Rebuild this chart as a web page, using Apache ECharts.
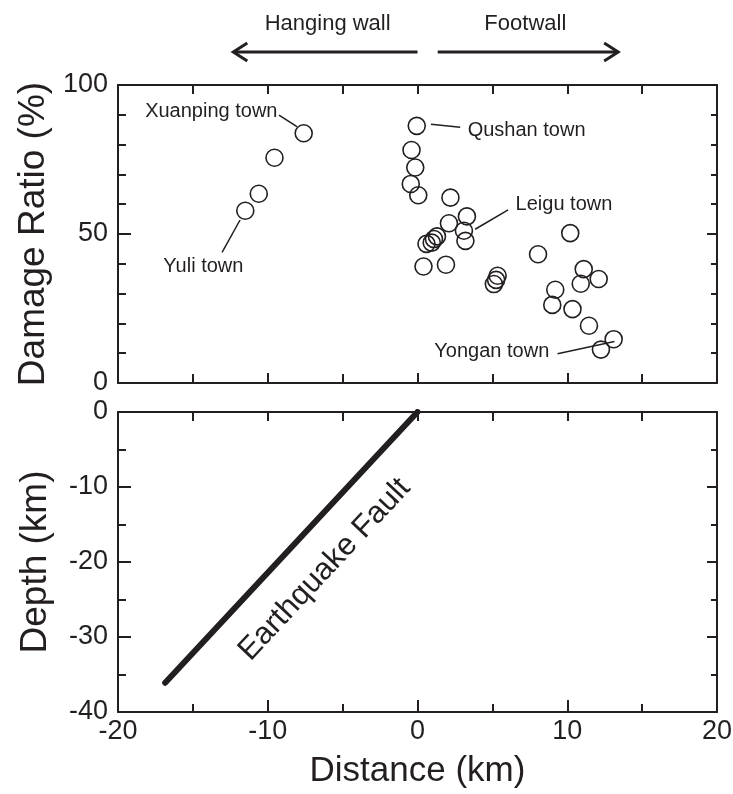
<!DOCTYPE html>
<html>
<head>
<meta charset="utf-8">
<script src="https://cdn.jsdelivr.net/npm/echarts@6/dist/echarts.min.js"></script>
<style>
  html, body { margin: 0; padding: 0; background: #fff; }
  #chart { width: 733px; height: 794px; }
</style>
</head>
<body>
<div id="chart"></div>
<script>
// damage ratio of towns vs distance from the fault trace
var townX = [-7.6, -9.55, -10.6, -11.5,
  -0.05, -0.4, -0.15, -0.45, 0.05, 2.2, 3.3, 2.1, 3.1, 3.2,
  0.6, 0.95, 1.1, 1.3, 0.4, 1.9, 5.35, 5.25, 5.1,
  8.05, 10.2, 11.1, 10.9, 12.1, 9.2, 9.0, 10.35, 11.45, 13.1, 12.25];
var townY = [83.8, 75.6, 63.5, 57.8,
  86.3, 78.2, 72.3, 66.8, 63.0, 62.2, 55.9, 53.6, 51.1, 47.7,
  46.7, 47.1, 48.3, 49.2, 39.1, 39.7, 36.0, 34.6, 33.2,
  43.2, 50.3, 38.2, 33.3, 34.9, 31.3, 26.2, 24.8, 19.2, 14.7, 11.2];

// town name labels: anchor point, label side, leader line ends
var labelNames = ['Xuanping town', 'Yuli town', 'Qushan town', 'Leigu town', 'Yongan town'];
var labelX = [-9.35, -14.3, 3.35, 6.55, 8.8];
var labelY = [91.0, 39.1, 84.9, 59.8, 10.6];
var labelSide = ['left', 'inside', 'right', 'right', 'left'];
var leaderX = [[-9.25, -8.05], [-13.05, -11.85], [0.9, 2.85], [3.85, 6.05], [9.35, 13.15]];
var leaderY = [[89.9, 86.0], [43.8, 54.7], [86.8, 85.8], [51.6, 58.1], [9.8, 13.9]];

// fault trace in the section below
var faultX = [0, -16.85];
var faultDepth = [0, -36.1];
var faultLabel = 'Earthquake Fault';
var faultLabelX = -6.2;
var faultLabelY = -21.0;

// direction arrows above the chart (distance, km)
var hangingWall = [0, -12.3];
var footWall = [1.35, 13.4];

var ink = '#231f20';
var font = '"Liberation Sans", Arial, sans-serif';

function pairs(xs, ys) {
  return xs.map(function (x, i) { return [x, ys[i]]; });
}

function axis(o) {
  var a = {
    type: 'value',
    gridIndex: o.grid,
    position: o.position,
    min: o.min,
    max: o.max,
    interval: o.interval,
    axisLine: { show: true, onZero: false, lineStyle: { color: ink, width: 2 } },
    axisTick: { show: true, inside: true, length: o.tick, lineStyle: { color: ink, width: 2 } },
    minorTick: { show: true, splitNumber: o.minor, length: o.minorTick, lineStyle: { color: ink, width: 2 } },
    splitLine: { show: false },
    axisLabel: { show: !!o.labels, color: ink, fontSize: 27, fontFamily: font, margin: o.margin || 8 }
  };
  if (o.name) {
    a.name = o.name;
    a.nameLocation = 'middle';
    a.nameGap = o.nameGap;
    a.nameRotate = o.nameRotate;
    a.nameTextStyle = { color: ink, fontSize: o.nameSize || 35, fontFamily: font };
  }
  return a;
}

var chart = echarts.init(document.getElementById('chart'));

var series = [{
  type: 'scatter',
  xAxisIndex: 0, yAxisIndex: 0,
  symbol: 'circle',
  symbolSize: 17,
  itemStyle: { color: 'rgba(0,0,0,0)', borderColor: ink, borderWidth: 1.6, opacity: 1 },
  data: pairs(townX, townY),
  z: 3
}];

labelNames.forEach(function (name, i) {
  series.push({
    type: 'line',
    xAxisIndex: 0, yAxisIndex: 0,
    symbol: 'none',
    lineStyle: { color: ink, width: 1.5 },
    data: pairs(leaderX[i], leaderY[i])
  });
  series.push({
    type: 'scatter',
    xAxisIndex: 0, yAxisIndex: 0,
    symbolSize: 0,
    itemStyle: { opacity: 1 },
    label: {
      show: true, position: labelSide[i], distance: 0,
      formatter: name, color: ink, fontSize: 20, fontFamily: font
    },
    data: [[labelX[i], labelY[i]]]
  });
});

series.push({
  type: 'line',
  xAxisIndex: 2, yAxisIndex: 2,
  symbol: 'none',
  lineStyle: { color: ink, width: 6, cap: 'round' },
  data: pairs(faultX, faultDepth)
});
series.push({
  type: 'scatter',
  xAxisIndex: 2, yAxisIndex: 2,
  symbolSize: 0,
  itemStyle: { opacity: 1 },
  label: {
    show: true, position: 'inside', rotate: 47,
    formatter: faultLabel, color: ink, fontSize: 31, fontFamily: font
  },
  data: [[faultLabelX, faultLabelY]]
});

chart.setOption({
  animation: false,
  backgroundColor: '#fff',
  grid: [
    { left: 118, right: 16, top: 85, height: 298, outerBoundsMode: 'none' },
    { left: 118, right: 16, top: 412, height: 300, outerBoundsMode: 'none' }
  ],
  xAxis: [
    axis({ grid: 0, position: 'bottom', min: -20, max: 20, interval: 10, minor: 2, tick: 10, minorTick: 9 }),
    axis({ grid: 0, position: 'top', min: -20, max: 20, interval: 10, minor: 2, tick: 9, minorTick: 9 }),
    axis({ grid: 1, position: 'bottom', min: -20, max: 20, interval: 10, minor: 2, tick: 12, minorTick: 8,
      labels: true, margin: 6, name: 'Distance (km)', nameGap: 42 }),
    axis({ grid: 1, position: 'top', min: -20, max: 20, interval: 10, minor: 2, tick: 9, minorTick: 9 })
  ],
  yAxis: [
    axis({ grid: 0, position: 'left', min: 0, max: 100, interval: 50, minor: 5, tick: 13, minorTick: 8,
      labels: true, margin: 10, name: 'Damage Ratio (%)', nameGap: 64, nameRotate: 90, nameSize: 37 }),
    axis({ grid: 0, position: 'right', min: 0, max: 100, interval: 50, minor: 5, tick: 10, minorTick: 6 }),
    axis({ grid: 1, position: 'left', min: -40, max: 0, interval: 10, minor: 2, tick: 13, minorTick: 8,
      labels: true, margin: 10, name: 'Depth (km)', nameGap: 64, nameRotate: 90, nameSize: 37 }),
    axis({ grid: 1, position: 'right', min: -40, max: 0, interval: 10, minor: 2, tick: 10, minorTick: 6 })
  ],
  series: series
});

// arrows + captions above the top panel, placed with the distance scale
function px(v) { return chart.convertToPixel({ xAxisIndex: 0 }, v); }
function arrow(from, to) {
  var x1 = px(from), x2 = px(to), y = 52;
  var d = x2 > x1 ? -1 : 1;
  return {
    type: 'group',
    children: [
      { type: 'line', shape: { x1: x1, y1: y, x2: x2, y2: y }, style: { stroke: ink, lineWidth: 3 } },
      { type: 'polyline', shape: { points: [[x2 + d * 14, y - 9], [x2, y], [x2 + d * 14, y + 9]] },
        style: { stroke: ink, lineWidth: 3, fill: null } }
    ]
  };
}
function caption(text, at) {
  return {
    type: 'text',
    x: px(at), y: 24,
    style: { text: text, fill: ink, fontSize: 22, fontFamily: font, align: 'center', verticalAlign: 'middle' }
  };
}
chart.setOption({
  graphic: [
    arrow(hangingWall[0], hangingWall[1]),
    arrow(footWall[0], footWall[1]),
    caption('Hanging wall', -6.0),
    caption('Footwall', 7.2)
  ]
});
</script>
</body>
</html>
